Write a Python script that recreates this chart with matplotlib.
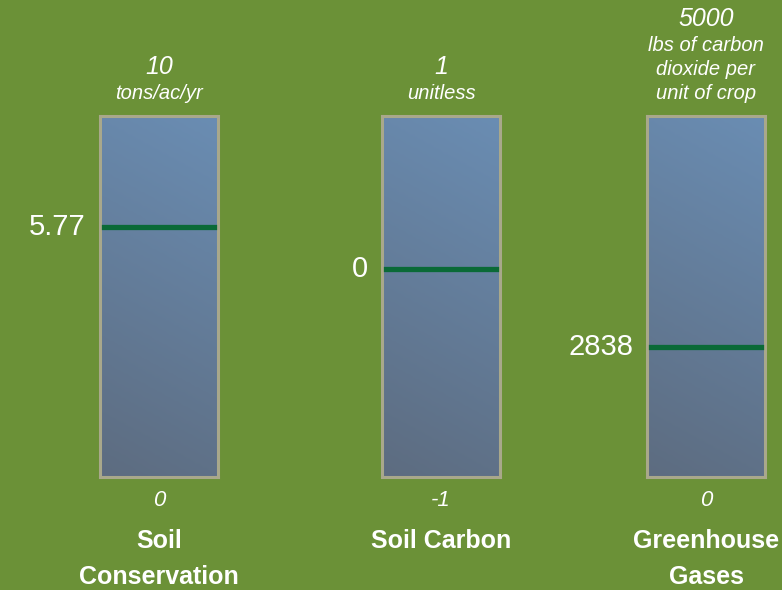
import numpy as np
import matplotlib
matplotlib.use('Agg')
import matplotlib.pyplot as plt
from matplotlib.colors import LinearSegmentedColormap

# gauge data
names = ['Soil\nConservation', 'Soil Carbon', 'Greenhouse\nGases']
scale_min = [0, -1, 0]
scale_max = [10, 1, 5000]
units = ['tons/ac/yr', 'unitless', 'lbs of carbon\ndioxide per\nunit of crop']
readouts = ['5.77', '0', '2838']
marker_pos = [6.92, 0.15, 1805]   # where the marker sits in the picture

plt.rcParams['font.family'] = ['Liberation Sans', 'DejaVu Sans']

bg = '#6B9137'
fig = plt.figure(figsize=(7.82, 5.90), dpi=100, facecolor=bg)

W, H = 782, 590
lefts = [100, 382, 647]
box_w, box_top, box_bot = 118, 116, 477

cmap = LinearSegmentedColormap.from_list('gauge', ['#5D6C80', '#6A8DB3'])
yy, xx = np.mgrid[0:1:200j, 0:1:50j]
grad = 0.85 * yy + 0.15 * xx

for i in range(3):
    ax = fig.add_axes([lefts[i] / W, (H - box_bot) / H, box_w / W, (box_bot - box_top) / H])
    ax.set_ylim(scale_min[i], scale_max[i])
    ax.set_xlim(0, 1)
    ax.imshow(grad, cmap=cmap, origin='lower', aspect='auto',
              extent=[0, 1, scale_min[i], scale_max[i]], zorder=0)
    ax.set_xticks([])
    ax.set_yticks([])
    for s in ax.spines.values():
        s.set_color('#A9A88B')
        s.set_linewidth(2.2)

    # marker line and readout
    ax.axhline(marker_pos[i], xmin=0.03, xmax=0.97, color='#0A6A37', lw=3.8, zorder=3)
    ax.annotate(readouts[i], xy=(0, marker_pos[i]), xycoords=('axes fraction', 'data'),
                xytext=(-14, 0), textcoords='offset pixels', ha='right', va='center',
                fontsize=21, color='white')

    # top: units and max value
    ut = ax.annotate(units[i], xy=(0.5, 1), xycoords='axes fraction',
                     xytext=(0, 13), textcoords='offset pixels', ha='center', va='bottom',
                     fontsize=14.5, style='italic', color='white', linespacing=1.33)
    ax.annotate(str(scale_max[i]), xy=(0.5, 1), xycoords=ut,
                xytext=(0, 5), textcoords='offset pixels', ha='center', va='bottom',
                fontsize=18, style='italic', color='white')

    # bottom: min value and name
    mt = ax.annotate(str(scale_min[i]), xy=(0.5, 0), xycoords='axes fraction',
                     xytext=(0, -13), textcoords='offset pixels', ha='center', va='top',
                     fontsize=16, style='italic', color='white')
    ax.annotate(names[i], xy=(0.5, 0), xycoords=mt,
                xytext=(0, -18), textcoords='offset pixels', ha='center', va='top',
                fontsize=18, fontweight='bold', color='white', linespacing=1.65,
                annotation_clip=False)

fig.savefig('out.png', dpi=100, facecolor=bg)
